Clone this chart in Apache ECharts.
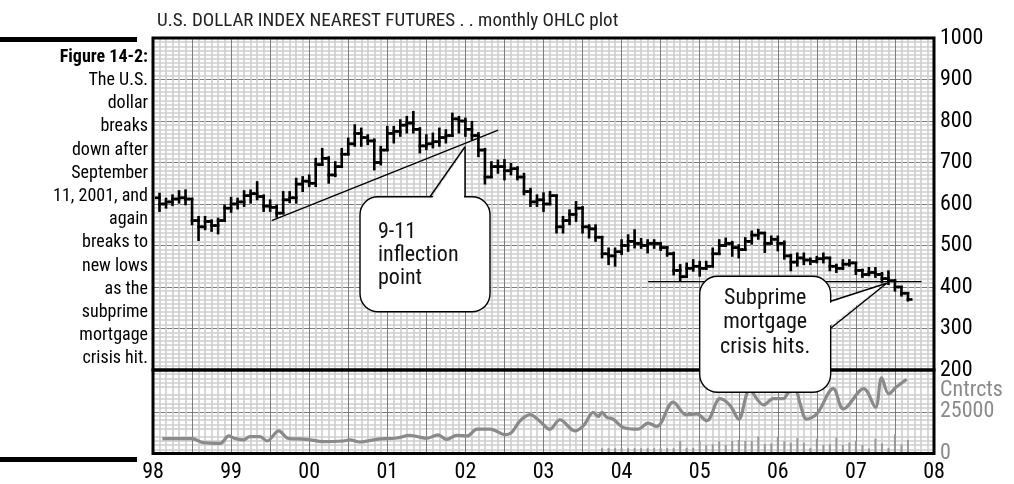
<!DOCTYPE html>
<html>
<head>
<meta charset="utf-8">
<title>U.S. Dollar Index nearest futures</title>
<script src="https://cdn.jsdelivr.net/npm/echarts@6/dist/echarts.min.js"></script>
<style>
  html, body { margin: 0; padding: 0; background: #fff; }
  #main { width: 1014px; height: 484px; }
</style>
</head>
<body>
<div id="main"></div>
<script>
let FONT = "'Roboto Condensed', 'Liberation Sans Narrow', 'DejaVu Sans Condensed', Roboto, sans-serif";

// monthly OHLC, Jan 98 .. Aug 07
let opens = [
  615, 600, 605, 612, 615, 612, 560, 545, 558, 548,
  560, 590, 600, 605, 620, 625, 618, 595, 592, 578,
  610, 615, 648, 655, 650, 695, 710, 670, 690, 720,
  745, 770, 760, 752, 700, 730, 770, 775, 790, 795,
  780, 740, 745, 750, 760, 765, 805, 800, 780, 765,
  730, 665, 690, 690, 680, 685, 665, 630, 605, 610,
  600, 620, 545, 560, 575, 590, 545, 540, 520, 480,
  475, 485, 500, 510, 505, 500, 505, 505, 495, 480,
  440, 425, 445, 450, 445, 450, 480, 500, 505, 495,
  490, 510, 525, 530, 505, 515, 505, 475, 460, 470,
  465, 462, 468, 470, 450, 445, 455, 458, 440, 430,
  435, 430, 420, 415, 400, 385
];
let highs = [
  624, 612, 620, 630, 632, 612, 568, 568, 560, 564,
  596, 614, 612, 630, 632, 652, 620, 608, 596, 628,
  628, 660, 664, 668, 708, 732, 712, 700, 732, 757,
  789, 781, 765, 755, 737, 785, 785, 801, 809, 821,
  782, 765, 769, 781, 777, 817, 809, 805, 797, 770,
  732, 700, 704, 705, 696, 688, 672, 636, 620, 625,
  628, 620, 568, 584, 604, 592, 548, 548, 520, 492,
  492, 512, 524, 536, 515, 512, 512, 505, 496, 482,
  452, 456, 464, 460, 460, 492, 512, 516, 508, 500,
  517, 533, 537, 530, 521, 521, 509, 477, 480, 480,
  468, 472, 480, 470, 453, 464, 464, 458, 441, 445,
  445, 433, 437, 416, 400, 384
];
let lows = [
  584, 592, 598, 604, 600, 552, 514, 540, 536, 530,
  560, 582, 590, 596, 604, 612, 584, 584, 570, 588,
  605, 604, 632, 644, 644, 696, 652, 668, 696, 720,
  741, 741, 745, 684, 696, 741, 749, 765, 773, 773,
  725, 733, 737, 741, 749, 781, 773, 765, 757, 716,
  650, 676, 676, 660, 672, 660, 624, 596, 596, 584,
  608, 532, 532, 552, 560, 532, 520, 512, 472, 456,
  452, 480, 488, 496, 495, 484, 495, 490, 476, 431,
  415, 428, 440, 428, 444, 452, 480, 500, 476, 472,
  497, 505, 517, 485, 505, 489, 469, 441, 452, 456,
  456, 460, 460, 441, 437, 444, 452, 432, 425, 429,
  425, 412, 408, 392, 380, 368
];
let closes = [
  600, 605, 612, 615, 612, 560, 545, 558, 548, 560,
  590, 600, 605, 620, 625, 618, 595, 592, 578, 610,
  615, 648, 655, 650, 695, 710, 670, 690, 720, 745,
  770, 760, 752, 700, 730, 770, 775, 790, 795, 780,
  740, 745, 750, 760, 765, 805, 800, 780, 765, 730,
  665, 690, 690, 680, 685, 665, 630, 605, 610, 600,
  620, 545, 560, 575, 590, 545, 540, 520, 480, 475,
  485, 500, 510, 505, 500, 505, 505, 495, 480, 440,
  425, 445, 450, 445, 450, 480, 500, 505, 495, 490,
  510, 525, 530, 505, 515, 505, 475, 460, 470, 465,
  462, 468, 470, 450, 445, 455, 458, 440, 430, 435,
  430, 420, 415, 400, 385, 370
];

// open interest (contracts), read at the turning points of the curve
let oiYears = [
  1998.12, 1998.50, 1998.64, 1998.86, 1998.97, 1999.03, 1999.16, 1999.24, 1999.37, 1999.46,
  1999.61, 1999.73, 1999.97, 2000.18, 2000.44, 2000.52, 2000.65, 2000.86, 2001.12, 2001.29,
  2001.50, 2001.65, 2001.76, 2001.89, 2002.02, 2002.15, 2002.32, 2002.51, 2002.59, 2002.70,
  2002.83, 2002.96, 2003.08, 2003.21, 2003.40, 2003.51, 2003.64, 2003.70, 2003.75, 2003.81,
  2003.89, 2004.02, 2004.21, 2004.34, 2004.45, 2004.66, 2004.83, 2004.96, 2005.09, 2005.26,
  2005.39, 2005.50, 2005.64, 2005.82, 2005.94, 2006.07, 2006.14, 2006.22, 2006.28, 2006.37,
  2006.50, 2006.71, 2006.84, 2007.10, 2007.25, 2007.33, 2007.42, 2007.52, 2007.65
];
let oiValues = [
  8900, 8900, 6500, 6100, 10500, 9300, 8100, 10100, 10100, 7500,
  13600, 9100, 8500, 7100, 7500, 8100, 6900, 8500, 9300, 10900,
  9100, 11100, 8500, 10900, 10500, 14600, 14600, 11300, 12500, 19600,
  23300, 19000, 14500, 20200, 13600, 16600, 24700, 22100, 24700, 21700,
  20600, 15600, 14600, 18200, 16200, 30800, 23100, 23700, 19600, 32800,
  28700, 20600, 37800, 29100, 32800, 32800, 36800, 38900, 30800, 20600,
  23700, 38900, 26700, 38900, 27700, 45300, 35800, 39900, 44500
];

// volume ticks start at month 68 (Sep 03)
let volFirstMonth = 68;
let volumes = [
  3200, 3200, 3200, 3200, 3200, 3200, 3200, 3200, 3200, 3200, 3200, 3200,
  7500, 3400, 3400, 7300, 4900, 5500, 7300, 5100, 7500, 8100,
  7500, 7500, 10100, 5700, 6100, 9900, 7300, 6500, 9300, 6500,
  3400, 8900, 5100, 5500, 9500, 5100, 6500, 7500, 5100, 3000,
  8900, 6100, 3400, 11500, 5500, 8100
];

let trendUp = [[1999.52, 560], [2002.42, 778]];
let supportLine = [[2004.34, 413], [2007.84, 413]];

let caption = ['The U.S.', 'dollar', 'breaks', 'down after', 'September', '11, 2001, and',
  'again', 'breaks to', 'new lows', 'as the', 'subprime', 'mortgage', 'crisis hit.'];

function monthPos(m) {
  return 1998 + (m + 1) / 12;
}

let ohlc = closes.map(function (c, i) {
  return [monthPos(i), opens[i], c, lows[i], highs[i]];
});
let oiData = oiYears.map(function (y, i) { return [y, oiValues[i]]; });
let volData = volumes.map(function (v, i) { return [monthPos(volFirstMonth + i), v]; });

function renderOHLC(params, api) {
  let x = api.value(0);
  let o = api.coord([x, api.value(1)]);
  let c = api.coord([x, api.value(2)]);
  let lo = api.coord([x, api.value(3)]);
  let hi = api.coord([x, api.value(4)]);
  let half = api.size([1 / 12, 0])[0] / 2;
  let st = { stroke: '#000', lineWidth: 2.6, lineCap: 'square' };
  let top = Math.min(hi[1], o[1], c[1]);
  let bot = Math.max(lo[1], o[1], c[1]);
  return {
    type: 'group',
    children: [
      { type: 'line', shape: { x1: hi[0], y1: top, x2: hi[0], y2: bot }, style: st },
      { type: 'line', shape: { x1: o[0] - half, y1: o[1], x2: o[0], y2: o[1] }, style: st },
      { type: 'line', shape: { x1: c[0], y1: c[1], x2: c[0] + half, y2: c[1] }, style: st }
    ]
  };
}

let majorLine = { show: true, lineStyle: { color: '#7d7d7d', width: 1 } };
let minorLine = { show: true, lineStyle: { color: '#cecece', width: 1.6 } };

let myChart = echarts.init(document.getElementById('main'));
let option = {
  animation: false,
  backgroundColor: '#fff',
  title: {
    text: 'U.S. DOLLAR INDEX NEAREST FUTURES . . monthly OHLC plot',
    left: 152,
    top: 7,
    textStyle: { fontFamily: FONT, fontSize: 19, fontWeight: 'normal', color: '#222' }
  },
  grid: [
    { left: 153, right: 80, top: 38, height: 332 },
    { left: 153, right: 80, top: 370, height: 83.5 }
  ],
  xAxis: [
    {
      gridIndex: 0, type: 'value', min: 1998, max: 2008, interval: 0.5,
      axisLine: { show: false }, axisTick: { show: false }, axisLabel: { show: false },
      splitLine: majorLine,
      minorTick: { show: false, splitNumber: 6 },
      minorSplitLine: minorLine
    },
    {
      gridIndex: 1, type: 'value', min: 1998, max: 2008, interval: 0.5,
      axisLine: { show: false }, axisTick: { show: false },
      axisLabel: {
        margin: 8,
        fontFamily: FONT, fontSize: 22, color: '#000',
        formatter: function (v) {
          return v % 1 === 0 ? String(v).slice(2) : '';
        }
      },
      splitLine: majorLine,
      minorTick: { show: false, splitNumber: 6 },
      minorSplitLine: minorLine
    }
  ],
  yAxis: [
    {
      gridIndex: 0, type: 'value', position: 'right', min: 200, max: 1000, interval: 100,
      axisLine: { show: false }, axisTick: { show: false },
      axisLabel: {
        margin: 6, fontFamily: FONT, fontSize: 22, color: '#000',
        formatter: function (v) { return String(v); }
      },
      splitLine: majorLine,
      minorTick: { show: false, splitNumber: 10 },
      minorSplitLine: minorLine
    },
    {
      gridIndex: 1, type: 'value', position: 'right', min: 0, max: 50000, interval: 12500,
      axisLine: { show: false }, axisTick: { show: false },
      axisLabel: {
        margin: 6, fontFamily: FONT, fontSize: 22, color: '#8a8a8a',
        formatter: function (v) {
          if (v === 0) return '0';
          if (v === 25000) return '25000';
          if (v === 37500) return 'Cntrcts';
          return '';
        }
      },
      splitLine: { show: true, lineStyle: { color: ['#7d7d7d', 'rgba(0,0,0,0)'], width: 1 } },
      minorTick: { show: false, splitNumber: 5 },
      minorSplitLine: minorLine
    }
  ],
  series: [
    {
      name: 'open interest',
      type: 'line',
      xAxisIndex: 1, yAxisIndex: 1,
      data: oiData,
      smooth: 0.35,
      symbol: 'none',
      lineStyle: { color: '#8a8a8a', width: 3.2 }
    },
    {
      name: 'volume',
      type: 'bar',
      xAxisIndex: 1, yAxisIndex: 1,
      data: volData,
      barWidth: 2,
      itemStyle: { color: '#999' }
    },
    {
      name: 'trend',
      type: 'line',
      xAxisIndex: 0, yAxisIndex: 0,
      data: trendUp,
      symbol: 'none',
      lineStyle: { color: '#000', width: 1.3 }
    },
    {
      name: 'support',
      type: 'line',
      xAxisIndex: 0, yAxisIndex: 0,
      data: supportLine,
      symbol: 'none',
      lineStyle: { color: '#000', width: 1.3 }
    },
    {
      name: 'USDX',
      type: 'custom',
      xAxisIndex: 0, yAxisIndex: 0,
      renderItem: renderOHLC,
      encode: { x: 0, y: [1, 2, 3, 4] },
      data: ohlc,
      z: 5
    }
  ]
};
myChart.setOption(option);

// frames, caption and callouts, placed from the axes
let tl = myChart.convertToPixel({ gridIndex: 0 }, [1998, 1000]);
let br = myChart.convertToPixel({ gridIndex: 0 }, [2008, 200]);
let bb = myChart.convertToPixel({ gridIndex: 1 }, [2008, 0]);
let tip1 = myChart.convertToPixel({ gridIndex: 0 }, [2001.995, 738]);
let tip2 = myChart.convertToPixel({ gridIndex: 0 }, [2007.394, 409]);

let g = [];
g.push({ type: 'rect', z: 10, shape: { x: tl[0], y: tl[1], width: br[0] - tl[0], height: br[1] - tl[1] },
  style: { fill: 'none', stroke: '#000', lineWidth: 3 } });
g.push({ type: 'rect', z: 10, shape: { x: tl[0], y: br[1], width: br[0] - tl[0], height: bb[1] - br[1] },
  style: { fill: 'none', stroke: '#000', lineWidth: 3 } });

// left caption
g.push({ type: 'rect', z: 10, shape: { x: 0, y: 37, width: 137, height: 5 }, style: { fill: '#000' } });
g.push({ type: 'rect', z: 10, shape: { x: 0, y: 457, width: 137, height: 5 }, style: { fill: '#000' } });
g.push({ type: 'text', z: 10, style: { text: 'Figure 14-2:', x: 148, y: 57, textAlign: 'right', textVerticalAlign: 'middle',
  font: 'bold 18px ' + FONT, fill: '#000' } });
caption.forEach(function (t, i) {
  g.push({ type: 'text', z: 10, style: { text: t, x: 148, y: 80.5 + i * 23.2, textAlign: 'right', textVerticalAlign: 'middle',
    font: '18px ' + FONT, fill: '#000' } });
});

let boxStyle = { fill: '#fff', stroke: '#000', lineWidth: 1.4 };
let edge = { stroke: '#000', lineWidth: 1.4 };

// 9-11 callout
let b1 = { x: tip1[0] - 105, y: tip1[1] + 50, w: 130, h: 115 };
g.push({ type: 'rect', z: 20, shape: { x: b1.x, y: b1.y, width: b1.w, height: b1.h, r: 18 }, style: boxStyle });
g.push({ type: 'polygon', z: 21, shape: { points: [[tip1[0] - 33, b1.y + 1.5], [tip1[0], tip1[1] + 2], [tip1[0] - 1, b1.y + 1.5]] },
  style: { fill: '#fff' } });
g.push({ type: 'line', z: 22, shape: { x1: tip1[0] - 35, y1: b1.y, x2: tip1[0], y2: tip1[1] }, style: edge });
g.push({ type: 'line', z: 22, shape: { x1: tip1[0], y1: tip1[1], x2: tip1[0], y2: b1.y }, style: edge });
['9-11', 'inflection', 'point'].forEach(function (t, i) {
  g.push({ type: 'text', z: 22, style: { text: t, x: b1.x + 18, y: b1.y + 36 + i * 23, textVerticalAlign: 'middle',
    font: '22px ' + FONT, fill: '#111' } });
});

// subprime callout
let b2 = { x: tip2[0] - 187, y: tip2[1] - 7, w: 131, h: 116 };
g.push({ type: 'rect', z: 20, shape: { x: b2.x, y: b2.y, width: b2.w, height: b2.h, r: 18 }, style: boxStyle });
g.push({ type: 'polygon', z: 21, shape: { points: [[b2.x + b2.w - 1.5, tip2[1] + 20], [tip2[0] - 2, tip2[1]], [b2.x + b2.w - 1.5, tip2[1] + 43]] },
  style: { fill: '#fff' } });
g.push({ type: 'line', z: 22, shape: { x1: b2.x + b2.w, y1: tip2[1] + 18, x2: tip2[0], y2: tip2[1] }, style: edge });
g.push({ type: 'line', z: 22, shape: { x1: tip2[0], y1: tip2[1], x2: b2.x + b2.w, y2: tip2[1] + 45 }, style: edge });
['Subprime', 'mortgage', 'crisis hits.'].forEach(function (t, i) {
  g.push({ type: 'text', z: 22, style: { text: t, x: b2.x + b2.w / 2, y: b2.y + 22 + i * 24.5, textAlign: 'center',
    textVerticalAlign: 'middle', font: '22px ' + FONT, fill: '#111' } });
});

myChart.setOption({ graphic: g });
</script>
</body>
</html>
